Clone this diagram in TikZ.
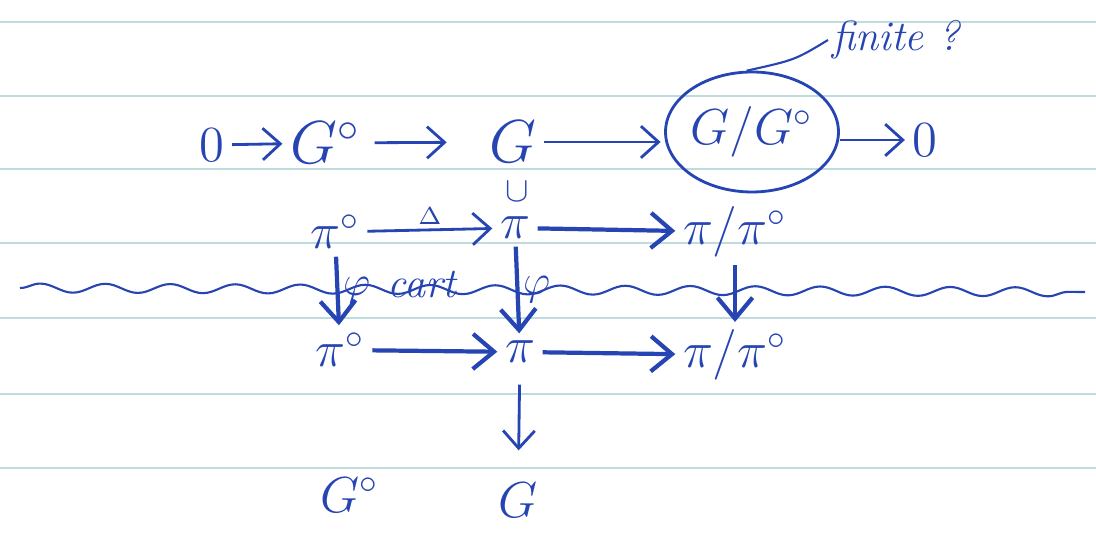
\documentclass[tikz,border=0pt]{standalone}
\usepackage{xcolor}
\usepackage{tikz}
\usetikzlibrary{shapes.geometric, arrows.meta, positioning, calc, decorations.pathmorphing}
\definecolor{ink}{RGB}{38, 68, 178}
\definecolor{ruling}{RGB}{190, 220, 222}
\tikzset{
    obj/.style = {text=ink, font=\Large, inner sep=2pt},
    small/.style = {text=ink, font=\large, inner sep=1pt},
    arrow/.style = {draw=ink, thick, -{Straight Barb[length=5pt, width=9pt]}},
    heavy/.style = {draw=ink, very thick, -{Straight Barb[length=6pt, width=10pt]}},
    rule/.style = {draw=ruling, line width=0.6pt},
    wave/.style = {draw=ink, semithick, decorate, decoration={snake, amplitude=0.45mm, segment length=6.5mm}}
}

\begin{document}
\begin{tikzpicture}
\useasboundingbox (0,0) rectangle (10.96,-5.38);
\fill[white] (0,0) rectangle (10.96,-5.38);

% ruled paper
\foreach \y in {0.22,0.96,1.69,2.43,3.18,3.94,4.68}
    \draw[rule] (0,-\y) -- (10.96,-\y);

% Top row
\node (zeroL) [obj] at (2.12,-1.45) {$0$};
\node (Gz) [obj, font=\LARGE] at (3.25,-1.43) {$G^{\circ}$};
\node (G) [obj, font=\LARGE, inner sep=0pt] at (5.13,-1.42) {$G$};
\node (quot) [obj, ellipse, draw=ink, thick, minimum width=1.44cm, minimum height=1.2cm, inner sep=0pt] at (7.52,-1.32) {$G/G^{\circ}$};
\node (zeroR) [obj] at (9.25,-1.40) {$0$};
\node (finite) [small, font=\large\itshape, anchor=west] at (8.28,-0.40) {finite ?};
\node (incl) [small, font=\normalsize, inner sep=0pt] at (5.17,-1.92) {$\cup$};

% Middle rows
\node (pzA) [obj] at (3.35,-2.32) {$\pi^{\circ}$};
\node (pA) [obj] at (5.15,-2.28) {$\pi$};
\node (qA) [obj] at (7.35,-2.32) {$\pi/\pi^{\circ}$};
\node (pzB) [obj] at (3.40,-3.50) {$\pi^{\circ}$};
\node (pB) [obj] at (5.20,-3.52) {$\pi$};
\node (qB) [obj] at (7.35,-3.55) {$\pi/\pi^{\circ}$};

% Bottom row
\node (Gzb) [small, font=\Large] at (3.50,-4.95) {$G^{\circ}$};
\node (Gb) [small, font=\Large] at (5.18,-5.00) {$G$};

% wavy cut
\draw[wave] (0.2,-2.88) -- (10.85,-2.92);

% Arrows
\draw [arrow] (zeroL) -- (Gz);
\draw [arrow, shorten <=2pt, shorten >=12pt] (Gz) -- (G);
\draw [arrow, shorten <=2pt, shorten >=1pt] (G) -- (G -| quot.west);
\draw [arrow] (quot.east |- zeroR) -- (zeroR);
\draw [ink, semithick] (quot.95) .. controls (7.95,-0.6) .. (finite.west);

\draw [arrow] (pzA) -- node[above, small, font=\scriptsize] {$\Delta$} (pA);
\draw [heavy] (pA) -- (qA);
\draw [heavy] (pzA) -- node[right, small] {$\varphi$} (pzB);
\draw [heavy] (pA) -- node[right, small] {$\varphi$} (pB);
\draw [heavy] (qA) -- (qB);
\node (cart) [small, font=\large\itshape] at (4.22,-2.85) {cart};

\draw [heavy] (pzB) -- (pB);
\draw [heavy] (pB) -- (qB);
\draw [arrow, shorten <=4pt, shorten >=8pt] (pB) -- (Gb);

\end{tikzpicture}
\end{document}
